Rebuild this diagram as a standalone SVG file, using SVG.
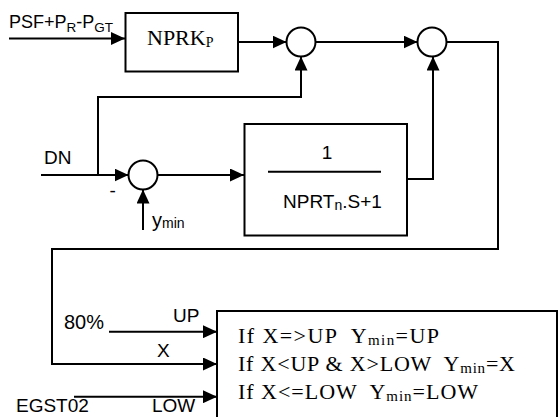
<svg xmlns="http://www.w3.org/2000/svg" width="558" height="417" viewBox="0 0 558 417">
<style>
.ln{fill:none;stroke:#000;stroke-width:2}
.bx{fill:#fff;stroke:#000;stroke-width:2}
.s{font-family:"Liberation Sans",Arial,sans-serif;font-size:19px;fill:#000}
.r{font-family:"Liberation Serif","Times New Roman",serif;font-size:22px;fill:#000}
</style>
<defs>
<marker id="ah" markerUnits="userSpaceOnUse" markerWidth="14" markerHeight="13" refX="14" refY="6.5" orient="auto">
<path d="M0,0 L14,6.5 L0,13 z" fill="#000"/>
</marker>
</defs>
<rect width="558" height="417" fill="#fff"/>
<g id="connectors">
<path class="ln" d="M9,38.5 H125" marker-end="url(#ah)"/>
<path class="ln" d="M238,42 H286.5" marker-end="url(#ah)"/>
<path class="ln" d="M315.5,42 H417.5" marker-end="url(#ah)"/>
<path class="ln" d="M446.5,42 H498 V249 H52 V364 H217" marker-end="url(#ah)"/>
<path class="ln" d="M41,175 H128.5" marker-end="url(#ah)"/>
<path class="ln" d="M98,175 V97 H301 V56.5" marker-end="url(#ah)"/>
<path class="ln" d="M157.5,175 H244" marker-end="url(#ah)"/>
<path class="ln" d="M143,230 V189.5" marker-end="url(#ah)"/>
<path class="ln" d="M407,179 H433 V56.5" marker-end="url(#ah)"/>
<path class="ln" d="M109,331.7 H217" marker-end="url(#ah)"/>
<path class="ln" d="M74,396.7 H217" marker-end="url(#ah)"/>
</g>
<g id="input-psf">
<text class="s" x="9" y="28" style="font-size:18px">PSF+P<tspan font-size="13.5" dy="3.5">R</tspan><tspan dy="-3.5">-P</tspan><tspan font-size="13.5" dy="3.5">GT</tspan></text>
</g>
<g id="nprk">
<rect class="bx" x="125.5" y="13" width="112.5" height="58.5"/>
<text class="r" x="147" y="45">NPRK<tspan font-size="14" dy="1.5">P</tspan></text>
</g>
<g id="sum1"><circle class="bx" cx="301" cy="42" r="14.5"/></g>
<g id="sum2"><circle class="bx" cx="432" cy="42" r="14.5"/></g>
<g id="input-dn">
<text class="s" x="44" y="164">DN</text>
<text class="s" x="109.5" y="197">-</text>
</g>
<g id="sum3"><circle class="bx" cx="143" cy="175" r="14.5"/></g>
<g id="ymin-label">
<text class="s" x="152" y="227" style="font-size:20px">y<tspan font-size="14" dy="1">min</tspan></text>
</g>
<g id="lag">
<rect class="bx" x="244.5" y="124" width="162.5" height="111.5"/>
<text class="s" x="327" y="159" text-anchor="middle">1</text>
<line class="ln" x1="268" y1="171.7" x2="381" y2="171.7" stroke-width="1.5"/>
<text class="s" x="283" y="208">NPRT<tspan font-size="14" dy="2">n</tspan><tspan dy="-2">.S+1</tspan></text>
</g>
<g id="inputs">
<text class="s" x="64" y="329" style="font-size:20px">80%</text>
<text class="s" x="173" y="322">UP</text>
<text class="s" x="157" y="357">X</text>
<text class="s" x="16" y="412">EGST02</text>
<text class="s" x="152" y="412">LOW</text>
</g>
<g id="limiter">
<rect class="bx" x="217" y="311" width="340" height="120"/>
<text class="r" x="238" y="343" textLength="201" lengthAdjust="spacing" xml:space="preserve">If X=&gt;UP  Y<tspan font-size="15" dy="1.5">min</tspan><tspan dy="-1.5">=UP</tspan></text>
<text class="r" x="238" y="371" textLength="277" lengthAdjust="spacing" xml:space="preserve">If X&lt;UP &amp; X&gt;LOW  Y<tspan font-size="15" dy="1.5">min</tspan><tspan dy="-1.5">=X</tspan></text>
<text class="r" x="238" y="399" textLength="240" lengthAdjust="spacing" xml:space="preserve">If X&lt;=LOW  Y<tspan font-size="15" dy="1.5">min</tspan><tspan dy="-1.5">=LOW</tspan></text>
</g>
</svg>
